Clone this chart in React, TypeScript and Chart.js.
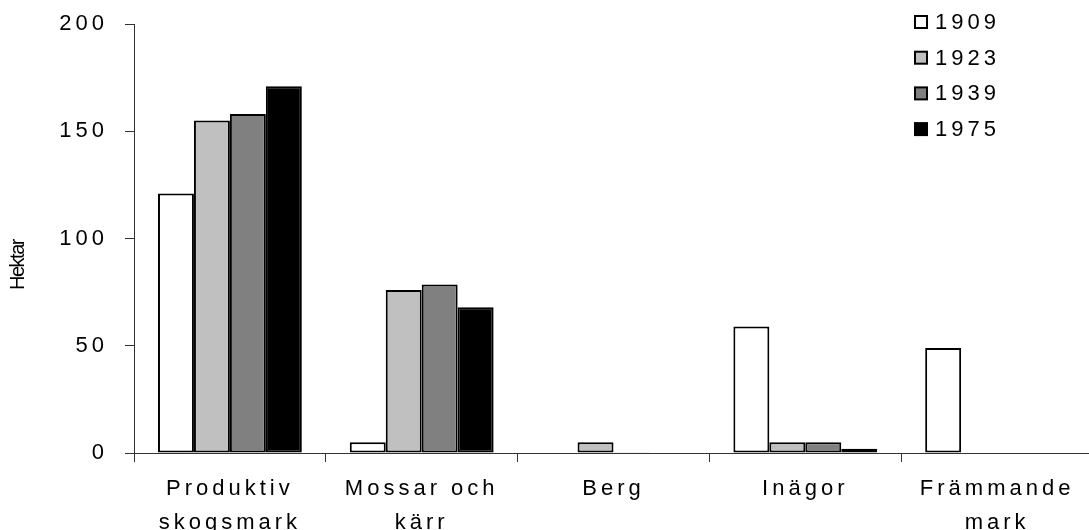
import React, { useEffect, useRef } from 'react';
import { Chart, registerables } from 'chart.js';

Chart.register(...registerables);

const categories: string[][] = [
  ['Produktiv', 'skogsmark'],
  ['Mossar och', 'kärr'],
  ['Berg'],
  ['Inägor'],
  ['Främmande', 'mark'],
];
const seriesNames = ['1909', '1923', '1939', '1975'];
const values1909 = [121, 5, 0, 59, 49];
const values1923 = [155, 76, 5, 5, 0];
const values1939 = [158, 78.5, 0.4, 5, 0];
const values1975 = [171, 68, 0, 2, 0];
const seriesColors = ['#ffffff', '#c0c0c0', '#808080', '#000000'];
const yMin = 0;
const yMax = 200;
const yStep = 50;
const yTitle = 'Hektar';

const FONT = '"Liberation Sans", Arial, sans-serif';

const spacingPlugin = {
  id: 'spacingAndExtras',
  beforeLayout(chart: any) {
    chart.ctx.letterSpacing = '4px';
  },
  beforeDraw(chart: any) {
    chart.ctx.letterSpacing = '4px';
  },
  afterDraw(chart: any) {
    const ctx = chart.ctx as CanvasRenderingContext2D;
    ctx.save();
    ctx.font = `22px ${FONT}`;
    (ctx as any).letterSpacing = '4px';
    ctx.textBaseline = 'middle';
    ctx.textAlign = 'left';
    chart.data.datasets.forEach((ds: any, i: number) => {
      const cy = 22 + i * 35.7;
      ctx.fillStyle = ds.backgroundColor;
      ctx.fillRect(915, cy - 6, 12, 12);
      ctx.lineWidth = 2;
      ctx.strokeStyle = '#000';
      ctx.strokeRect(915, cy - 6, 12, 12);
      ctx.fillStyle = '#000';
      ctx.fillText(ds.label, 935, cy + 1);
    });
    (ctx as any).letterSpacing = '-1.5px';
    ctx.font = `20px ${FONT}`;
    ctx.translate(18, 265);
    ctx.rotate(-Math.PI / 2);
    ctx.textAlign = 'center';
    ctx.textBaseline = 'middle';
    ctx.fillStyle = '#000';
    ctx.fillText(yTitle, 0, 0);
    ctx.restore();
    (ctx as any).letterSpacing = '4px';
  },
};

export default function App() {
  const ref = useRef<HTMLCanvasElement | null>(null);
  useEffect(() => {
    if (!ref.current) return;
    const seriesValues = [values1909, values1923, values1939, values1975];
    const chart = new Chart(ref.current, {
      type: 'bar',
      data: {
        labels: categories as any,
        datasets: seriesNames.map((name, i) => ({
          label: name,
          data: seriesValues[i],
          backgroundColor: seriesColors[i],
          borderColor: '#000000',
          borderWidth: 2,
          borderSkipped: false,
          categoryPercentage: 0.75,
          barPercentage: 1.0,
        })),
      },
      options: {
        animation: false,
        responsive: true,
        maintainAspectRatio: false,
        layout: { padding: { top: 24, left: 0, right: 0, bottom: 0 } },
        plugins: {
          legend: { display: false },
          tooltip: { enabled: false },
        },
        scales: {
          x: {
            grid: {
              display: true,
              drawOnChartArea: false,
              drawTicks: true,
              tickLength: 9,
              color: '#333',
              offset: true,
            },
            border: { display: true, color: '#333', width: 1 },
            ticks: {
              color: '#000',
              font: { family: FONT, size: 22, lineHeight: 1.55 },
              padding: 10,
              maxRotation: 0,
              minRotation: 0,
              autoSkip: false,
            },
            afterFit: (scale: any) => {
              scale.height = 77;
              scale.paddingLeft = 0;
              scale.paddingRight = 0;
            },
          },
          y: {
            min: yMin,
            max: yMax,
            grid: {
              display: true,
              drawOnChartArea: false,
              drawTicks: true,
              tickLength: 9,
              color: '#333',
            },
            border: { display: true, color: '#333', width: 1 },
            ticks: {
              stepSize: yStep,
              color: '#000',
              font: { family: FONT, size: 22 },
              padding: 17,
            },
            afterFit: (scale: any) => {
              scale.width = 134;
              scale.paddingTop = 0;
              scale.paddingBottom = 0;
            },
          },
        },
      },
      plugins: [spacingPlugin],
    });
    return () => chart.destroy();
  }, []);

  return (
    <div
      style={{
        position: 'fixed',
        left: 0,
        top: 0,
        width: 1089,
        height: 530,
        overflow: 'hidden',
        background: '#fff',
      }}
    >
      <div style={{ position: 'relative', width: 1093, height: 530 }}>
        <canvas ref={ref} />
      </div>
    </div>
  );
}
